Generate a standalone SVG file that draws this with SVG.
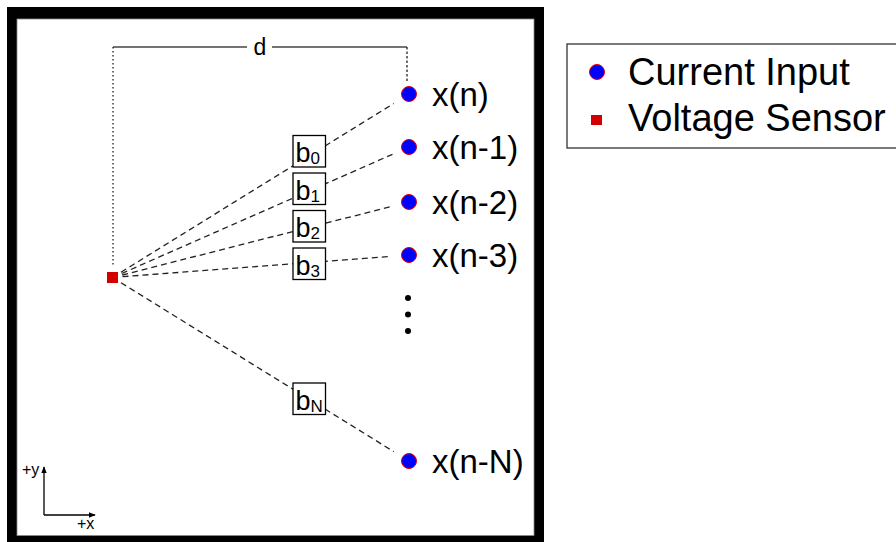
<svg xmlns="http://www.w3.org/2000/svg" width="896" height="542" viewBox="0 0 896 542">
<defs>
<style>
.lbl{font-family:"Liberation Sans",Arial,sans-serif;font-size:33px;fill:#000}
.leg{font-family:"Liberation Sans",Arial,sans-serif;font-size:38px;fill:#000}
.b{font-family:"Liberation Sans",Arial,sans-serif;font-size:27px;fill:#000}
.sub{font-family:"Liberation Sans",Arial,sans-serif;font-size:17px;fill:#000}
.ax{font-family:"Liberation Sans",Arial,sans-serif;font-size:16px;fill:#000}
.dash{stroke:#222;stroke-width:1.3;stroke-dasharray:6,4;fill:none}
.dot{fill:#0000ff;stroke:#e00000;stroke-width:1}
.box{fill:#fff;stroke:#000;stroke-width:1.3}
</style>
<marker id="ah" viewBox="0 0 10 10" refX="9" refY="5" markerWidth="7" markerHeight="7" orient="auto" markerUnits="userSpaceOnUse">
<path d="M0,1 L10,5 L0,9 Z" fill="#000"/>
</marker>
</defs>
<rect x="0" y="0" width="896" height="542" fill="#fff"/>
<g id="frame">
<rect x="7" y="7" width="537" height="536" fill="#000"/>
<rect x="17" y="19" width="517" height="516.5" fill="#fff" stroke="#888" stroke-width="0.8"/>
</g>
<g id="dimension">
<line x1="113" y1="47" x2="247" y2="47" stroke="#444" stroke-width="1.3"/>
<line x1="272" y1="47" x2="407" y2="47" stroke="#444" stroke-width="1.3"/>
<line x1="113" y1="47" x2="113" y2="266" stroke="#222" stroke-width="1.3" stroke-dasharray="1.5,2.5"/>
<line x1="407" y1="47" x2="407" y2="83" stroke="#222" stroke-width="1.3" stroke-dasharray="2.5,2"/>
<text x="260" y="55" class="ax" style="font-size:23px" text-anchor="middle">d</text>
</g>
<g id="connectors">
<line class="dash" x1="121" y1="272.2" x2="393.7" y2="103.5"/>
<line class="dash" x1="121.7" y1="273.5" x2="392.5" y2="154.3"/>
<line class="dash" x1="122.2" y1="275" x2="391.6" y2="206.4"/>
<line class="dash" x1="122.5" y1="276.7" x2="391.1" y2="256.4"/>
<line class="dash" x1="121" y1="282.7" x2="393.7" y2="451.6"/>
</g>
<g id="sensor">
<rect x="107" y="272" width="11" height="11" fill="#d40000"/>
</g>
<g id="b0"><rect class="box" x="293" y="135.5" width="32.5" height="31.5"/><text class="b" x="295.5" y="162">b</text><text class="sub" x="310.5" y="164">0</text></g>
<g id="b1"><rect class="box" x="293" y="173" width="32.5" height="31.5"/><text class="b" x="295.5" y="199.5">b</text><text class="sub" x="310.5" y="201.5">1</text></g>
<g id="b2"><rect class="box" x="293" y="210.5" width="32.5" height="31.5"/><text class="b" x="295.5" y="237">b</text><text class="sub" x="310.5" y="239">2</text></g>
<g id="b3"><rect class="box" x="293" y="248" width="32.5" height="31.5"/><text class="b" x="295.5" y="274.5">b</text><text class="sub" x="310.5" y="276.5">3</text></g>
<g id="bN"><rect class="box" x="293" y="383" width="32.5" height="31.5"/><text class="b" x="295.5" y="409.5">b</text><text class="sub" x="310.5" y="411.5">N</text></g>
<g id="xn"><circle class="dot" cx="409" cy="94" r="7.5"/><text class="lbl" x="432" y="106">x(n)</text></g>
<g id="xn1"><circle class="dot" cx="409" cy="147" r="7.5"/><text class="lbl" x="432" y="159">x(n-1)</text></g>
<g id="xn2"><circle class="dot" cx="409" cy="202" r="7.5"/><text class="lbl" x="432" y="214">x(n-2)</text></g>
<g id="xn3"><circle class="dot" cx="409" cy="255" r="7.5"/><text class="lbl" x="432" y="267">x(n-3)</text></g>
<g id="ellipsis">
<circle cx="408" cy="298" r="3" fill="#000"/>
<circle cx="408" cy="314.5" r="3" fill="#000"/>
<circle cx="408" cy="331" r="3" fill="#000"/>
</g>
<g id="xnN"><circle class="dot" cx="409" cy="461" r="7.5"/><text class="lbl" x="432" y="473">x(n-N)</text></g>
<g id="axes">
<line x1="44" y1="515" x2="44" y2="467" stroke="#000" stroke-width="1.3" marker-end="url(#ah)"/>
<line x1="44" y1="515" x2="95" y2="515" stroke="#000" stroke-width="1.3" marker-end="url(#ah)"/>
<text class="ax" x="22" y="475">+y</text>
<text class="ax" x="77" y="529">+x</text>
</g>
<g id="legend">
<rect x="567" y="44" width="340" height="104" fill="#fff" stroke="#222" stroke-width="1.2"/>
<circle class="dot" cx="597" cy="72" r="7.5"/>
<text class="leg" x="628" y="85">Current Input</text>
<rect x="591" y="115" width="11" height="10" fill="#d40000"/>
<text class="leg" x="628" y="131">Voltage Sensor</text>
</g>
</svg>
